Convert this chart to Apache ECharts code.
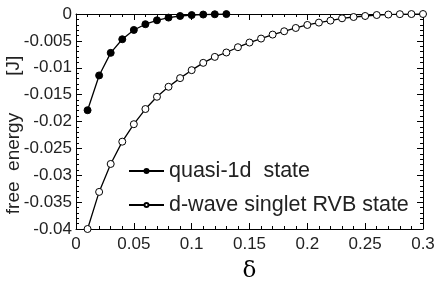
<!DOCTYPE html>
<html><head><meta charset="utf-8">
<script src="https://cdn.jsdelivr.net/npm/echarts@6/dist/echarts.min.js"></script>
<style>html,body{margin:0;padding:0;background:#fff}#c{width:437px;height:284px}</style>
</head><body><div id="c"></div>
<script>
const quasiX = [0.01,0.02,0.03,0.04,0.05,0.06,0.07,0.08,0.09,0.10,0.11,0.12,0.13];
const quasiY = [-0.0179,-0.01143,-0.00723,-0.0047,-0.00297,-0.0019,-0.00117,-0.00067,-0.00037,-0.0002,-0.0001,-0.00005,-0.00002];
const dwaveX = [0.01,0.02,0.03,0.04,0.05,0.06,0.07,0.08,0.09,0.10,0.11,0.12,0.13,0.14,0.15,0.16,0.17,0.18,0.19,0.20,0.21,0.22,0.23,0.24,0.25,0.26,0.27,0.28,0.29,0.30];
const dwaveY = [-0.04,-0.0331,-0.0279,-0.02375,-0.0205,-0.01768,-0.0154,-0.01354,-0.01193,-0.01045,-0.00909,-0.00798,-0.00716,-0.00618,-0.00531,-0.00457,-0.00383,-0.00321,-0.0026,-0.00204,-0.0016,-0.00123,-0.0008,-0.00056,-0.00037,-0.00019,-0.0001,-0.00003,-0.00001,0];
const seriesNames = ['quasi-1d  state','d-wave singlet RVB state'];
const xTicks = {min:0, max:0.3, interval:0.05};
const yTicks = {min:-0.04, max:0, interval:0.005};

const FONT = 'Liberation Sans';
const chart = echarts.init(document.getElementById('c'));
function xFmt(v){ return String(+v.toFixed(2)); }
function yFmt(v){ return String(+v.toFixed(3)); }
const line = {onZero:false, lineStyle:{color:'#000',width:1}};
const tick = {inside:true, length:6, lineStyle:{color:'#000'}};
const minor = {show:true, splitNumber:5, length:3, lineStyle:{color:'#000'}};
chart.setOption({
  animation:false,
  textStyle:{fontFamily:FONT},
  grid:{left:76, right:14, top:14, bottom:55, containLabel:false, outerBoundsMode:'none'},
  xAxis:[{
    type:'value', position:'bottom', min:xTicks.min, max:xTicks.max, interval:xTicks.interval,
    name:'δ', nameLocation:'middle', nameGap:31, nameMoveOverlap:false,
    nameTextStyle:{fontSize:23, color:'#000', fontFamily:'DejaVu Serif'},
    axisLine:line, axisTick:tick, minorTick:minor,
    axisLabel:{fontSize:17, color:'#222', margin:7, formatter:xFmt},
    splitLine:{show:false}
  },{
    type:'value', position:'top', min:xTicks.min, max:xTicks.max, interval:xTicks.interval,
    axisLine:line, axisTick:tick, minorTick:minor,
    axisLabel:{show:false}, splitLine:{show:false}
  }],
  yAxis:[{
    type:'value', position:'left', min:yTicks.min, max:yTicks.max, interval:yTicks.interval,
    name:'free  energy       [J]', nameLocation:'middle', nameGap:53, nameRotate:90, nameMoveOverlap:false,
    nameTextStyle:{fontSize:19, color:'#222', padding:[0,27,0,0]},
    axisLine:Object.assign({show:true}, line), axisTick:tick, minorTick:minor,
    axisLabel:{fontSize:17, color:'#222', margin:4, formatter:yFmt},
    splitLine:{show:false}
  },{
    type:'value', position:'right', min:yTicks.min, max:yTicks.max, interval:yTicks.interval,
    axisLine:Object.assign({show:true}, line), axisTick:tick, minorTick:minor,
    axisLabel:{show:false}, splitLine:{show:false}
  }],
  legend:{
    orient:'vertical', left:128, top:160, padding:0, itemWidth:35, itemHeight:5, itemGap:12,
    textStyle:{fontSize:21.5, color:'#222', fontFamily:FONT},
    data:seriesNames
  },
  series:[{
    name:seriesNames[0], type:'line', xAxisIndex:0, yAxisIndex:0,
    data:quasiX.map((x,i)=>[x,quasiY[i]]),
    symbol:'circle', symbolSize:7,
    lineStyle:{color:'#000', width:1.3},
    itemStyle:{color:'#000', borderColor:'#000', borderWidth:1}
  },{
    name:seriesNames[1], type:'line', xAxisIndex:0, yAxisIndex:0,
    data:dwaveX.map((x,i)=>[x,dwaveY[i]]),
    symbol:'circle', symbolSize:7,
    lineStyle:{color:'#000', width:1.3},
    itemStyle:{color:'#fff', borderColor:'#000', borderWidth:1}
  }]
});
</script></body></html>
